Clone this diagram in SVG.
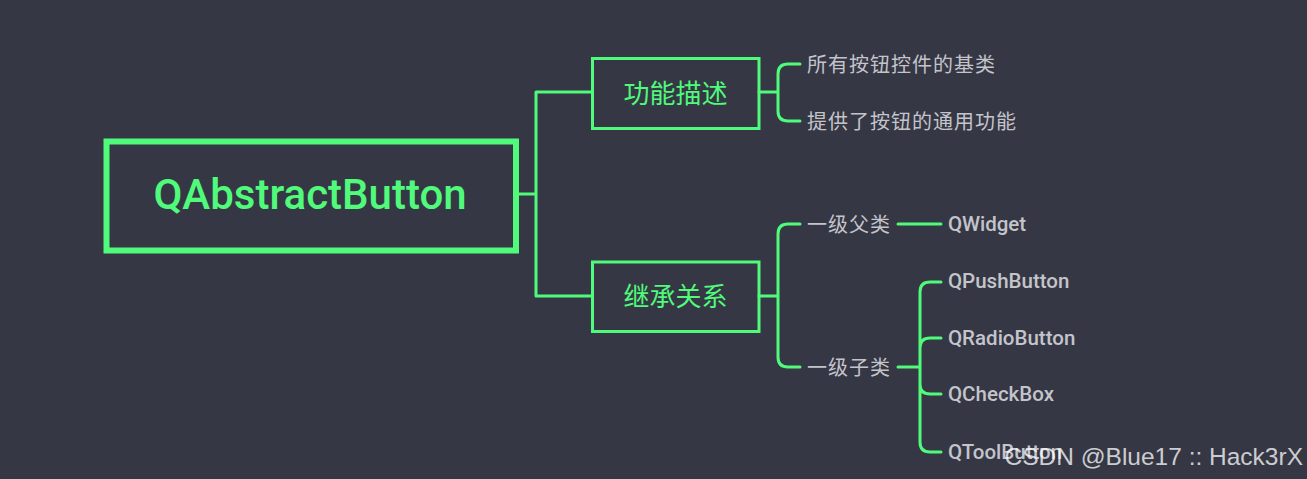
<svg xmlns="http://www.w3.org/2000/svg" width="1307" height="479" viewBox="0 0 1307 479">
<style>
.box{fill:none;stroke:#50fa7b}
.ln{fill:none;stroke:#50fa7b;stroke-width:3;stroke-linecap:round;stroke-linejoin:round}
.t1{font-family:Roboto,"Noto Sans CJK SC",sans-serif;fill:#50fa7b}
.t2{font-family:"Noto Sans CJK SC",sans-serif;fill:#c4c4cb;font-size:20px}
.t3{font-family:Roboto,"Noto Sans CJK SC",sans-serif;fill:#c4c4cb;font-size:20.5px;font-weight:500}
</style>
<rect width="1307" height="479" fill="#353744"/>
<g id="connectors">
<path class="ln" d="M517 194 H536 M536 92 V296 M536 92 H592 M536 296 H592"/>
<path class="ln" d="M759 92 H778 M778 92 V74 Q778 64 788 64 H800 M778 92 V111 Q778 121 788 121 H800"/>
<path class="ln" d="M759 296 H778 M778 296 V234 Q778 224 788 224 H800 M778 296 V357 Q778 367 788 367 H800"/>
<path class="ln" d="M898 224 H941"/>
<path class="ln" d="M898 367 H920 M920 367 V292 Q920 282 930 282 H941 M920 367 V348 Q920 338 930 338 H941 M920 367 V384 Q920 394 930 394 H941 M920 367 V442 Q920 452 930 452 H941"/>
</g>
<g id="root">
<rect class="box" x="106.5" y="141.5" width="409.5" height="109" stroke-width="6"/>
<text class="t1" x="310" y="209" font-size="42" font-weight="500" text-anchor="middle">QAbstractButton</text>
</g>
<g id="n-func">
<rect class="box" x="592.5" y="58.5" width="166.5" height="70" stroke-width="3"/>
<text class="t1" x="675.5" y="103" font-size="26" text-anchor="middle">功能描述</text>
</g>
<g id="n-inherit">
<rect class="box" x="592.5" y="262" width="166.5" height="69.5" stroke-width="3"/>
<text class="t1" x="675.5" y="306" font-size="26" text-anchor="middle">继承关系</text>
</g>
<g id="l-base"><text class="t2" x="807" y="72" letter-spacing="1">所有按钮控件的基类</text></g>
<g id="l-common"><text class="t2" x="807" y="129" letter-spacing="1">提供了按钮的通用功能</text></g>
<g id="l-parent"><text class="t2" x="807" y="232" letter-spacing="1">一级父类</text></g>
<g id="l-child"><text class="t2" x="807" y="375" letter-spacing="1">一级子类</text></g>
<g id="c-qwidget"><text class="t3" x="948" y="231">QWidget</text></g>
<g id="c-push"><text class="t3" x="948" y="288">QPushButton</text></g>
<g id="c-radio"><text class="t3" x="948" y="345">QRadioButton</text></g>
<g id="c-check"><text class="t3" x="948" y="401">QCheckBox</text></g>
<g id="c-tool"><text class="t3" x="948" y="459">QToolButton</text></g>
<text x="1303" y="465" text-anchor="end" font-family="'Liberation Sans',sans-serif" font-size="24.5" fill="#ffffff" fill-opacity="0.75">CSDN @Blue17 :: Hack3rX</text>
</svg>
